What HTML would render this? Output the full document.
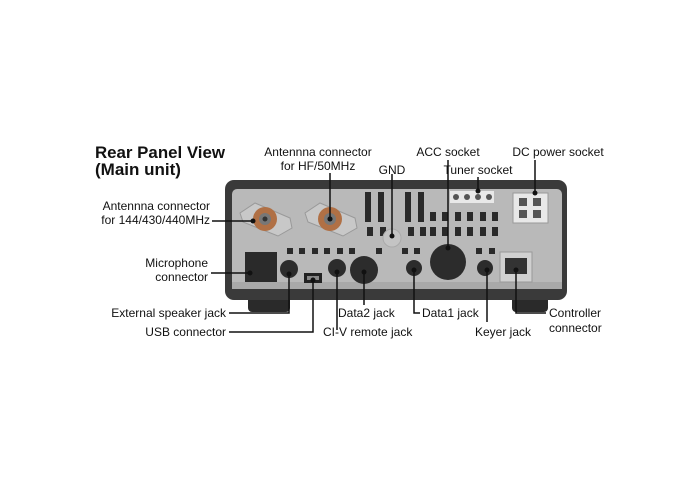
<!DOCTYPE html>
<html><head><meta charset="utf-8"><style>
html,body{margin:0;padding:0;background:#fff}
svg{display:block}
text{font-family:"Liberation Sans",Arial,sans-serif;fill:#111}
</style></head><body>
<svg width="700" height="485" viewBox="0 0 700 485">
<!-- feet -->
<rect x="248" y="290" width="42" height="22" rx="4" fill="#2a2a2a"/>
<rect x="512" y="290" width="36" height="22" rx="4" fill="#2a2a2a"/>
<!-- body -->
<rect x="225" y="180" width="342" height="120" rx="9" fill="#3a3a3a"/>
<rect x="232" y="189" width="330" height="100" rx="5" fill="#b9b9b9"/>
<rect x="232" y="282" width="330" height="7" fill="#a9a9a9"/>
<!-- flanges -->
<g fill="#c8c8c8" stroke="#999" stroke-width="1">
<path d="M240 213 L255 203 L290 218 L292 228 L278 236 L243 222 Z"/>
<path d="M305 213 L320 203 L355 218 L357 228 L343 236 L308 222 Z"/>
</g>
<g>
<circle cx="265" cy="219" r="12" fill="#b07045"/><circle cx="265" cy="219" r="6" fill="#777"/><circle cx="265" cy="219" r="2.5" fill="#333"/>
<circle cx="330" cy="219" r="12" fill="#b07045"/><circle cx="330" cy="219" r="6" fill="#777"/><circle cx="330" cy="219" r="2.5" fill="#333"/>
</g>
<!-- vent slots -->
<g fill="#2a2a2a">
<rect x="365" y="192" width="6" height="30"/><rect x="378" y="192" width="6" height="30"/>
<rect x="405" y="192" width="6" height="30"/><rect x="418" y="192" width="6" height="30"/>
<rect x="367" y="227" width="6" height="9"/><rect x="380" y="227" width="6" height="9"/>
<rect x="408" y="227" width="6" height="9"/><rect x="420" y="227" width="6" height="9"/>
<rect x="430" y="212" width="6" height="9"/><rect x="442" y="212" width="6" height="9"/><rect x="455" y="212" width="6" height="9"/><rect x="467" y="212" width="6" height="9"/><rect x="480" y="212" width="6" height="9"/><rect x="492" y="212" width="6" height="9"/>
<rect x="430" y="227" width="6" height="9"/><rect x="442" y="227" width="6" height="9"/><rect x="455" y="227" width="6" height="9"/><rect x="467" y="227" width="6" height="9"/><rect x="480" y="227" width="6" height="9"/><rect x="492" y="227" width="6" height="9"/>
<rect x="287" y="248" width="6" height="6"/><rect x="299" y="248" width="6" height="6"/><rect x="312" y="248" width="6" height="6"/><rect x="324" y="248" width="6" height="6"/><rect x="337" y="248" width="6" height="6"/><rect x="349" y="248" width="6" height="6"/><rect x="376" y="248" width="6" height="6"/>
<rect x="402" y="248" width="6" height="6"/><rect x="414" y="248" width="6" height="6"/>
<rect x="476" y="248" width="6" height="6"/><rect x="489" y="248" width="6" height="6"/>
</g>
<circle cx="392" cy="238" r="9" fill="#c4c4c4" stroke="#aaa"/>
<!-- tuner socket -->
<rect x="450" y="191" width="44" height="12" fill="#e8e8e8"/>
<g fill="#555"><circle cx="456" cy="197" r="3"/><circle cx="467" cy="197" r="3"/><circle cx="478" cy="197" r="3"/><circle cx="489" cy="197" r="3"/></g>
<!-- DC -->
<rect x="513" y="193" width="35" height="30" fill="#e8e8e8" stroke="#999"/>
<g fill="#555"><rect x="519" y="198" width="8" height="8"/><rect x="533" y="198" width="8" height="8"/><rect x="519" y="210" width="8" height="8"/><rect x="533" y="210" width="8" height="8"/></g>
<!-- mic -->
<rect x="245" y="252" width="32" height="30" fill="#2a2a2a"/>
<!-- jacks -->
<g fill="#2c2c2c">
<circle cx="289" cy="269" r="9"/><circle cx="337" cy="268" r="9"/>
<circle cx="364" cy="270" r="14"/><circle cx="414" cy="268" r="8"/>
<circle cx="448" cy="262" r="18"/><circle cx="485" cy="268" r="8"/>
</g>
<rect x="304" y="273" width="18" height="10" fill="#222"/><rect x="307" y="276" width="12" height="4" fill="#888"/>
<rect x="500" y="252" width="32" height="30" fill="#d0d0d0" stroke="#999"/>
<rect x="505" y="258" width="22" height="16" fill="#333"/>
<!-- leader lines -->
<g stroke="#111" stroke-width="1.5" fill="none">
<path d="M212 221 H253"/>
<path d="M330 173 V219"/>
<path d="M392 174 V236"/>
<path d="M448 160 V248"/>
<path d="M478 177 V191"/>
<path d="M535 160 V193"/>
<path d="M211 273 H250"/>
<path d="M229 313 H289 V274"/>
<path d="M229 332 H313 V280"/>
<path d="M337 272 V330"/>
<path d="M364 272 V305"/>
<path d="M414 270 V313 H420"/>
<path d="M487 270 V322"/>
<path d="M516 270 V313 H546"/>
</g>
<g fill="#111">
<circle cx="253" cy="221" r="2.5"/><circle cx="330" cy="219" r="2.5"/><circle cx="392" cy="236" r="2.5"/><circle cx="448" cy="248" r="2.5"/><circle cx="478" cy="191" r="2.5"/><circle cx="535" cy="193" r="2.5"/><circle cx="250" cy="273" r="2.5"/><circle cx="289" cy="274" r="2.5"/><circle cx="313" cy="280" r="2.5"/><circle cx="337" cy="272" r="2.5"/><circle cx="364" cy="272" r="2.5"/><circle cx="414" cy="270" r="2.5"/><circle cx="487" cy="270" r="2.5"/><circle cx="516" cy="270" r="2.5"/>
</g>
<!-- text -->
<text x="95" y="158" font-size="17" font-weight="bold" textLength="130" lengthAdjust="spacingAndGlyphs">Rear Panel View</text>
<text x="95" y="175" font-size="17" font-weight="bold">(Main unit)</text>
<g font-size="12">
<text x="318" y="156" text-anchor="middle">Antennna connector</text>
<text x="318" y="170" text-anchor="middle">for HF/50MHz</text>
<text x="392" y="174" text-anchor="middle">GND</text>
<text x="448" y="156" text-anchor="middle">ACC socket</text>
<text x="558" y="156" text-anchor="middle">DC power socket</text>
<text x="478" y="174" text-anchor="middle">Tuner socket</text>
<text x="210" y="210" text-anchor="end">Antennna connector</text>
<text x="210" y="224" text-anchor="end">for 144/430/440MHz</text>
<text x="208" y="267" text-anchor="end">Microphone</text>
<text x="208" y="281" text-anchor="end">connector</text>
<text x="226" y="317" text-anchor="end">External speaker jack</text>
<text x="226" y="336" text-anchor="end">USB connector</text>
<text x="323" y="336">CI-V remote jack</text>
<text x="338" y="317">Data2 jack</text>
<text x="422" y="317">Data1 jack</text>
<text x="475" y="336">Keyer jack</text>
<text x="549" y="317">Controller</text>
<text x="549" y="332">connector</text>
</g>
</svg>
</body></html>
